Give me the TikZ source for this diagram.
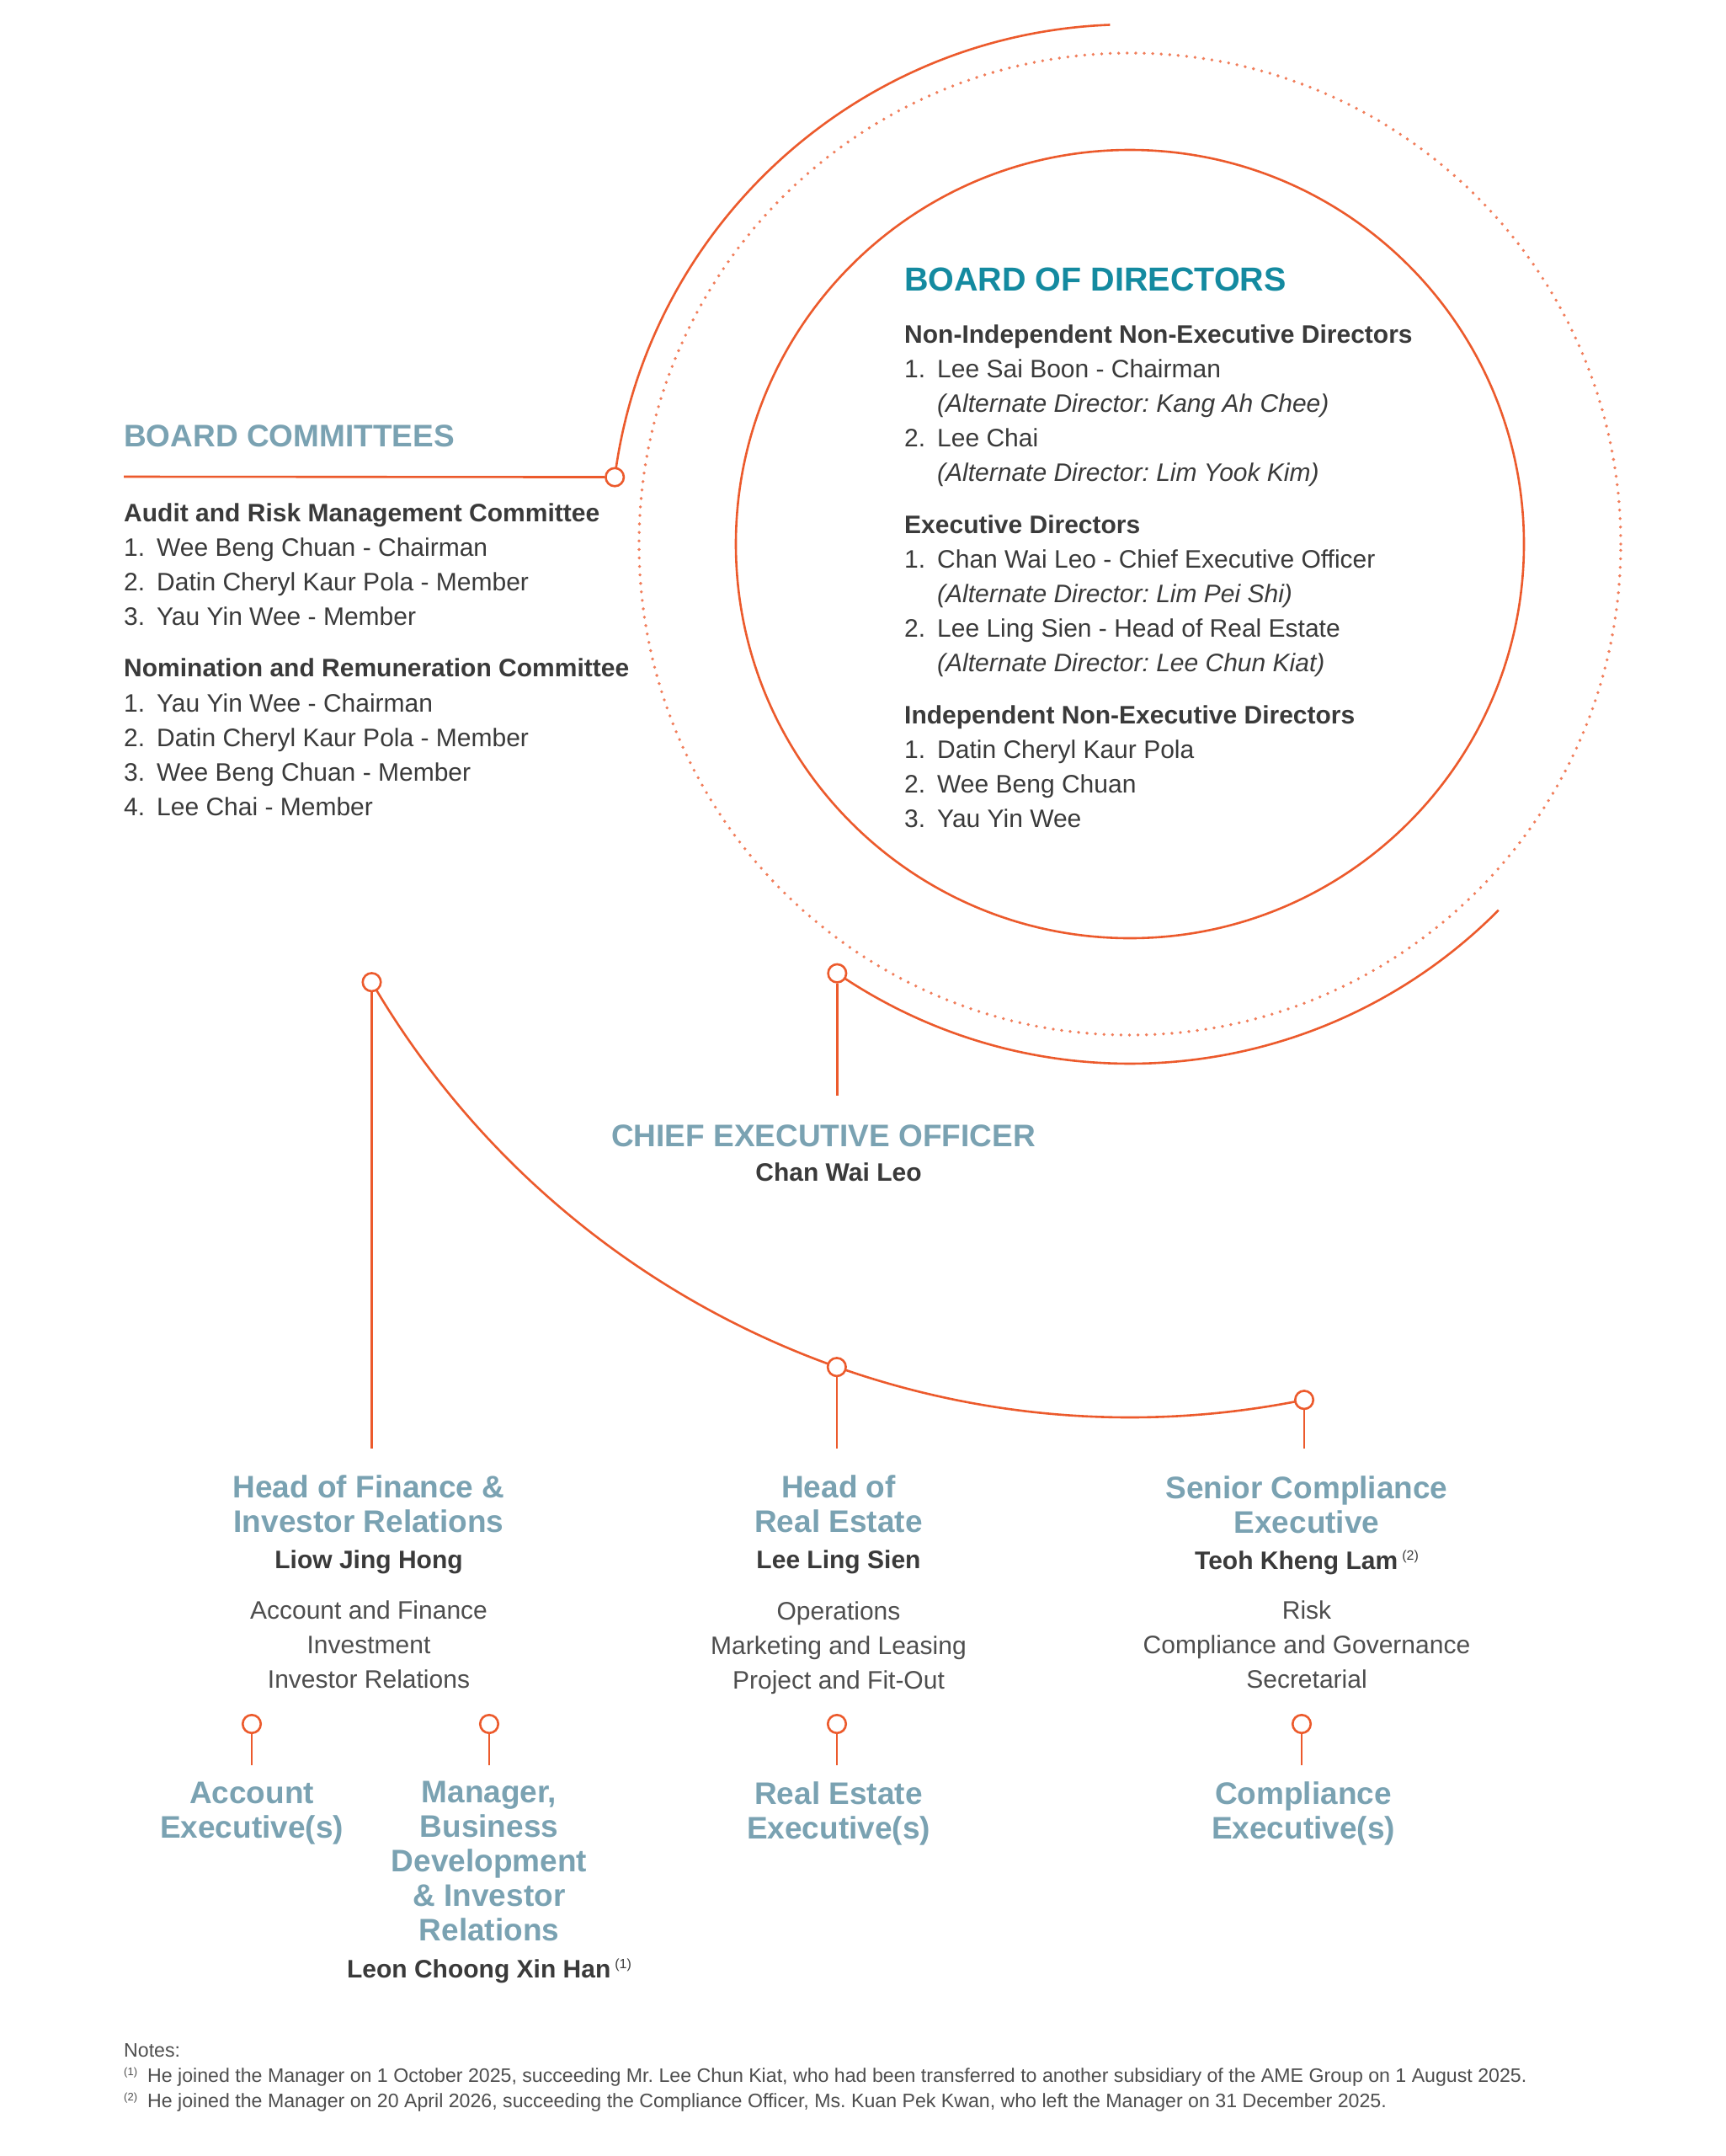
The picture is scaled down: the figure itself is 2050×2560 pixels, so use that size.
\documentclass[tikz,border=0pt]{standalone}
\usepackage{fontspec}
\setmainfont{Liberation Sans}
\usepackage{tikz}
\usetikzlibrary{positioning}
\usetikzlibrary{calc}
\usetikzlibrary{backgrounds}

\definecolor{lineorange}{RGB}{236,90,44}
\definecolor{dotorange}{RGB}{241,125,90}
\definecolor{bodteal}{RGB}{20,138,160}
\definecolor{headgrey}{RGB}{122,162,178}
\definecolor{textdark}{RGB}{58,58,58}
\definecolor{textlight}{RGB}{78,78,78}

\newcommand{\bodfont}{\bfseries\fontsize{39.5}{44}\selectfont}
\newcommand{\ttlfont}{\bfseries\fontsize{37}{41}\selectfont}
\newcommand{\nmfont}{\bfseries\fontsize{30}{41}\selectfont}
\newcommand{\lstfont}{\frenchspacing\fontsize{30}{41.2}\selectfont}
\newcommand{\fnfont}{\fontsize{30}{41}\selectfont}
\newcommand{\ntfont}{\frenchspacing\fontsize{23.15}{30}\selectfont}
\newcommand{\supmark}[1]{\,\raisebox{11pt}{\mdseries\fontsize{16}{16}\selectfont(#1)}}
\newcommand{\ntmark}[1]{\raisebox{8pt}{\fontsize{13}{13}\selectfont(#1)}}

\begin{document}
\begin{tikzpicture}[x=1pt, y=1pt,
  orgline/.style={draw=lineorange, line width=2.6pt},
  dotline/.style={draw=dotorange, line width=3.8pt, line cap=round, dash pattern=on 0pt off 10.1pt},
  knob/.style={circle, draw=lineorange, fill=white, line width=2.6pt, minimum size=21.5pt, inner sep=0pt},
  ttl/.style={font=\ttlfont, text=headgrey, align=center, inner sep=0pt},
  nm/.style={font=\nmfont, text=textdark, inner sep=0pt, anchor=base},
  fn/.style={font=\fnfont, text=textlight, align=center, inner sep=0pt},
  lst/.style={font=\lstfont, text=textdark, inner sep=0pt, anchor=base west}]

\useasboundingbox (0,0) rectangle (2050,-2560);

\coordinate (ctr) at (1342,-646);
\coordinate (ctr2) at (1342,-640);

\node (bod) [font=\bodfont, text=bodteal, inner sep=0pt, anchor=base west] at (1074,-345) {BOARD OF DIRECTORS};
\node (bodl) [lst] at (1074,-407) {\begin{tabular}[t]{@{}p{39pt}@{}l@{}}
\multicolumn{2}{@{}l@{}}{\bfseries Non-Independent Non-Executive Directors}\\
1. & Lee Sai Boon - Chairman\\
 & \itshape (Alternate Director: Kang Ah Chee)\\
2. & Lee Chai\\
 & \itshape (Alternate Director: Lim Yook Kim)\\[20pt]
\multicolumn{2}{@{}l@{}}{\bfseries Executive Directors}\\
1. & Chan Wai Leo - Chief Executive Officer\\
 & \itshape (Alternate Director: Lim Pei Shi)\\
2. & Lee Ling Sien - Head of Real Estate\\
 & \itshape (Alternate Director: Lee Chun Kiat)\\[20pt]
\multicolumn{2}{@{}l@{}}{\bfseries Independent Non-Executive Directors}\\
1. & Datin Cheryl Kaur Pola\\
2. & Wee Beng Chuan\\
3. & Yau Yin Wee
\end{tabular}};

\node (bct) [ttl, anchor=base west] at (147,-530) {BOARD COMMITTEES};
\node (bcl) [lst] at (147,-619) {\begin{tabular}[t]{@{}p{39pt}@{}l@{}}
\multicolumn{2}{@{}l@{}}{\bfseries Audit and Risk Management Committee}\\
1. & Wee Beng Chuan - Chairman\\
2. & Datin Cheryl Kaur Pola - Member\\
3. & Yau Yin Wee - Member\\[20pt]
\multicolumn{2}{@{}l@{}}{\bfseries Nomination and Remuneration Committee}\\
1. & Yau Yin Wee - Chairman\\
2. & Datin Cheryl Kaur Pola - Member\\
3. & Wee Beng Chuan - Member\\
4. & Lee Chai - Member
\end{tabular}};

\node (bc) [knob] at ($(ctr)+(172.6:617)$) {};
\node (ceo) [knob] at ($(ctr)+(235.7:617)$) {};
\node (ceoT) [ttl, anchor=base] at (978,-1361) {CHIEF EXECUTIVE OFFICER};
\node (ceoN) [nm] at (996,-1402) {Chan Wai Leo};

\node (fin) [knob] at ($(ctr2)+(210.3:1043)$) {};
\node (re) [knob] at ($(ctr2)+(250.5:1043)$) {};
\node (sc) [knob] at ($(ctr2)+(281.45:1043)$) {};

\node (finT) [ttl] at (438,-1786) {Head of Finance \&\\Investor Relations};
\node (finN) [nm] at (438,-1862) {Liow Jing Hong};
\node (finF) [fn] at (438,-1953) {Account and Finance\\Investment\\Investor Relations};

\node (reT) [ttl] at (996,-1786) {Head of\\Real Estate};
\node (reN) [nm] at (996,-1862) {Lee Ling Sien};
\node (reF) [fn] at (996,-1957) {Operations\\Marketing and Leasing\\Project and Fit-Out};

\node (scT) [ttl] at (1552,-1787) {Senior Compliance\\Executive};
\node (scN) [nm] at (1552,-1863) {Teoh Kheng Lam\supmark{2}};
\node (scF) [fn] at (1552,-1953) {Risk\\Compliance and Governance\\Secretarial};

\node (acc) [knob] at (299,-2047) {};
\node (mgr) [knob] at (581,-2047) {};
\node (ree) [knob] at (994,-2047) {};
\node (cmp) [knob] at (1546,-2047) {};

\node (accT) [ttl] at (299,-2153) {Account\\Executive(s)};
\node (mgrT) [ttl] at (581,-2210) {Manager,\\Business\\Development\\\& Investor\\Relations};
\node (mgrN) [nm] at (581,-2348) {Leon Choong Xin Han\supmark{1}};
\node (reeT) [ttl] at (996,-2153) {Real Estate\\Executive(s)};
\node (cmpT) [ttl] at (1548,-2153) {Compliance\\Executive(s)};

\node (notes) [font=\ntfont, text=textlight, inner sep=0pt, anchor=base west] at (147,-2442) {\begin{tabular}[t]{@{}p{28pt}@{}l@{}}
\multicolumn{2}{@{}l@{}}{Notes:}\\
\ntmark{1} & He joined the Manager on 1 October 2025, succeeding Mr. Lee Chun Kiat, who had been transferred to another subsidiary of the AME Group on 1 August 2025.\\
\ntmark{2} & He joined the Manager on 20 April 2026, succeeding the Compliance Officer, Ms. Kuan Pek Kwan, who left the Manager on 31 December 2025.
\end{tabular}};

\coordinate (bcEnd) at (147,-566);
\coordinate (arcTop) at ($(ctr)+(92.2:617)$);
\coordinate (ceoEnd) at (994,-1301);
\coordinate (low) at (0,-1720);
\coordinate (low2) at (0,-2096);

\begin{pgfonlayer}{background}
\fill[white] (0,0) rectangle (2050,-2560);
\draw[orgline] (ctr) circle[radius=468];
\draw[dotline] (ctr) circle[radius=583];
\draw[orgline] (arcTop) arc[start angle=92.2, end angle=172.6, radius=617];
\draw[orgline] (ceo.center) arc[start angle=235.7, end angle=315.2, radius=617];
\draw[orgline] (bcEnd) -- (bc);
\draw[orgline] (ceo) -- (ceo |- ceoEnd);
\draw[orgline] (fin.center) arc[start angle=210.3, end angle=281.45, radius=1043];
\foreach \k in {fin, re, sc} \draw[orgline] (\k) -- (\k |- low);
\foreach \k in {acc, mgr, ree, cmp} \draw[orgline] (\k) -- (\k |- low2);
\end{pgfonlayer}

\end{tikzpicture}
\end{document}
